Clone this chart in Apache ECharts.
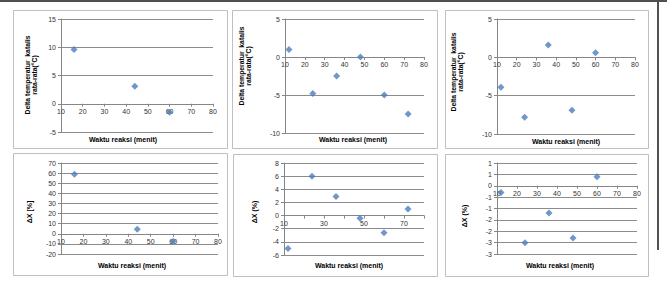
<!DOCTYPE html>
<html>
<head>
<meta charset="utf-8">
<script src="https://cdn.jsdelivr.net/npm/echarts@6/dist/echarts.min.js"></script>
<style>
  html, body { margin: 0; padding: 0; background: #fff; }
  #chart { width: 667px; height: 284px; }
</style>
</head>
<body>
<div id="chart"></div>
<script>
// data
const xTop1 = [16, 44, 60]
const yTop1 = [9.6, 3.1, -1.5]
const xTop2 = [12, 24, 36, 48, 60, 72]
const yTop2 = [1.0, -4.8, -2.5, 0, -5.0, -7.5]
const xTop3 = [12, 24, 36, 48, 60]
const yTop3 = [-3.9, -7.8, 1.6, -6.9, 0.6]
const xBot1 = [16, 44, 60]
const yBot1 = [58.8, 4.6, -7.3]
const xBot2 = [12, 24, 36, 48, 60, 72]
const yBot2 = [-5.0, 6.0, 2.9, -0.4, -2.6, 1.0]
const xBot3 = [12, 24, 36, 48, 60]
const yBot3 = [-0.3, -2.5, -1.2, -2.3, 0.4]

// axis ranges [min, max, interval]
const xRange = [10, 80, 10]
const yRangeTop1 = [-5, 15, 5]
const yRangeTop23 = [-10, 5, 5]
const yRangeBot1 = [-20, 70, 10]
const yRangeBot2 = [-6, 8, 2]
const yRangeBot3 = [-3, 1, 0.5]

const xTitle = 'Waktu reaksi (menit)'
const yTitleTop = ['Delta temperatur  katalis', 'rata-rata(°C)']
const yTitleBot = ['ΔX [%]', 'ΔX (%)', 'ΔX (%)']

const FONT = '"Liberation Sans", Arial, sans-serif'
const TXT = '#333333'
const BLUE = '#4a7ebb'

// layout of each panel (plot area in px)
const panels = [
  { grid: [61, 19, 152, 113], xs: xTop1, ys: yTop1, yr: yRangeTop1 },
  { grid: [285, 19, 139, 114], xs: xTop2, ys: yTop2, yr: yRangeTop23 },
  { grid: [497, 19, 138, 115], xs: xTop3, ys: yTop3, yr: yRangeTop23 },
  { grid: [61, 163, 157, 91], xs: xBot1, ys: yBot1, yr: yRangeBot1 },
  { grid: [284, 163, 140, 92], xs: xBot2, ys: yBot2, yr: yRangeBot2, xEvery20: true },
  { grid: [497, 163, 140, 91], xs: xBot3, ys: yBot3, yr: yRangeBot3, roundLabels: true }
]

const grids = [], xAxes = [], yAxes = [], series = []

panels.forEach((p, i) => {
  grids.push({ left: p.grid[0], top: p.grid[1], width: p.grid[2], height: p.grid[3] })
  // x axis crosses the y axis at 0: shift it up from the bottom edge
  const zeroOffset = -p.grid[3] * (0 - p.yr[0]) / (p.yr[1] - p.yr[0])
  xAxes.push({
    type: 'value', gridIndex: i, position: 'bottom', offset: zeroOffset,
    min: xRange[0], max: xRange[1], interval: xRange[2],
    axisLine: { onZero: false, lineStyle: { color: '#868686', width: 1 } },
    axisTick: { show: true, length: 3, lineStyle: { color: '#868686' } },
    splitLine: { show: false },
    axisLabel: {
      fontFamily: FONT, fontSize: 7, color: TXT, margin: 4,
      formatter: p.xEvery20
        ? (v => ((v - 10) % 20 === 0 && v < 80) ? String(v) : '')
        : (v => String(v))
    }
  })
  yAxes.push({
    type: 'value', gridIndex: i,
    min: p.yr[0], max: p.yr[1], interval: p.yr[2],
    axisLine: { show: true, onZero: false, lineStyle: { color: '#868686', width: 1 } },
    axisTick: { show: true, length: 3, lineStyle: { color: '#868686' } },
    splitLine: { show: true, lineStyle: { color: '#8c8c8c', width: 1 } },
    axisLabel: {
      fontFamily: FONT, fontSize: 7, color: TXT, margin: 5,
      formatter: p.roundLabels
        ? (v => { const r = Math.sign(v) * Math.round(Math.abs(v)); return String(r === 0 ? 0 : r) })
        : (v => String(v))
    }
  })
  series.push({
    type: 'scatter', xAxisIndex: i, yAxisIndex: i,
    symbol: 'diamond', symbolSize: 7,
    itemStyle: { color: BLUE },
    data: p.xs.map((x, k) => [x, p.ys[k]])
  })
})

// panel frames
const frames = [
  [13, 10, 214, 138], [232, 10, 205, 138], [445, 10, 203, 138],
  [13, 153, 214, 122], [233, 154, 204, 122], [445, 154, 203, 122]
]

const graphic = []
graphic.push({ type: 'rect', shape: { x: 0, y: 0, width: 667, height: 2 }, style: { fill: '#505050' } })
graphic.push({ type: 'rect', shape: { x: 657, y: 0, width: 2, height: 250 }, style: { fill: '#505050' } })
frames.forEach(f => {
  graphic.push({
    type: 'rect', shape: { x: f[0] + 0.5, y: f[1] + 0.5, width: f[2], height: f[3] },
    style: { fill: 'none', stroke: '#bfbfbf', lineWidth: 1 }, z: -1
  })
})

const txt = (text, x, y, rot, size) => ({
  type: 'text', x: x, y: y, rotation: rot || 0,
  style: { text: text, fill: '#000', font: 'bold ' + (size || 7) + 'px ' + FONT, align: 'center', verticalAlign: 'middle' }
})

// x titles
;[[123, 139], [353, 139], [566, 141], [132, 265], [349, 265], [560, 265]].forEach(c => {
  graphic.push(txt(xTitle, c[0], c[1], 0, 7))
})
// y titles, top row (two lines)
;[[27, 34, 75], [241, 248, 66], [453, 460, 72]].forEach(c => {
  graphic.push(txt(yTitleTop[0], c[0], c[2], Math.PI / 2, 6.8))
  graphic.push(txt(yTitleTop[1], c[1], c[2], Math.PI / 2, 6.8))
})
// y titles, bottom row
;[[29, 212], [254, 212], [464, 216]].forEach((c, i) => {
  graphic.push(txt(yTitleBot[i], c[0], c[1], Math.PI / 2, 7))
})

const chart = echarts.init(document.getElementById('chart'), null, { renderer: 'svg' })
chart.setOption({
  animation: false,
  grid: grids,
  xAxis: xAxes,
  yAxis: yAxes,
  series: series,
  graphic: graphic
})
</script>
</body>
</html>
